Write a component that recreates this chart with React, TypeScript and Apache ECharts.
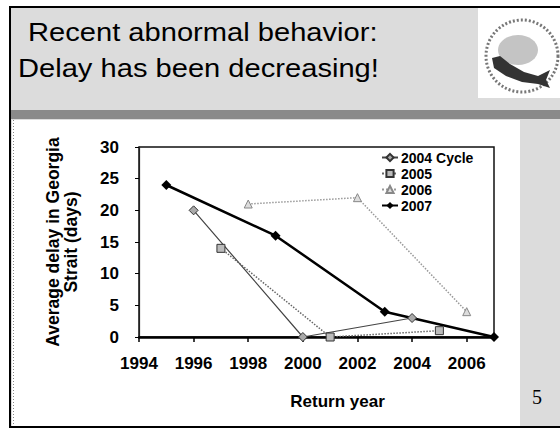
import React, { useEffect, useRef } from "react";
import * as echarts from "echarts";

// ---- data ----
const seriesNames = ["2004 Cycle", "2005", "2006", "2007"];
const years2004 = [1996, 2000, 2004];
const delay2004 = [20, 0, 3];
const years2005 = [1997, 2001, 2005];
const delay2005 = [14, 0, 1];
const years2006 = [1998, 2002, 2006];
const delay2006 = [21, 22, 4];
const years2007 = [1995, 1999, 2003, 2007];
const delay2007 = [24, 16, 4, 0];

const titleLines = ["Recent abnormal behavior:", "Delay has been decreasing!"];
const yAxisName = "Average delay in Georgia\nStrait (days)";
const xAxisName = "Return year";
const slideNumber = "5";

const FONT = "Liberation Sans, Arial, sans-serif";

function pairs(xs: number[], ys: number[]) {
  return xs.map((x, i) => [x, ys[i]]);
}

export default function App() {
  const ref = useRef<HTMLDivElement>(null);
  useEffect(() => {
    if (!ref.current) return;
    const chart = echarts.init(ref.current, null, { renderer: "svg" });
    const option: any = {
      animation: false,
      backgroundColor: "#ffffff",
      graphic: [
        // slide background
        { type: "rect", z: -10, shape: { x: 10, y: 7, width: 550, height: 420 }, style: { fill: "#dcdcdc" } },
        { type: "rect", z: -9, shape: { x: 10, y: 110, width: 550, height: 9 }, style: { fill: "#8a8a8a" } },
        { type: "rect", z: -9, shape: { x: 12, y: 120, width: 508, height: 306 }, style: { fill: "#ffffff" } },
        { type: "line", z: -8, shape: { x1: 13.5, y1: 120, x2: 13.5, y2: 426 }, style: { stroke: "#888", lineWidth: 1, lineDash: [1, 2] } },
        { type: "polyline", z: -8, shape: { points: [[560, 7], [10, 7], [10, 427], [560, 427]] }, style: { stroke: "#000", lineWidth: 2, fill: null } },
        // logo
        { type: "rect", z: -8, shape: { x: 478, y: 8, width: 82, height: 90 }, style: { fill: "#ffffff" } },
        { type: "circle", z: -7, shape: { cx: 522, cy: 56, r: 36 }, style: { fill: "none", stroke: "#777", lineWidth: 3, lineDash: [2, 2] } },
        { type: "ellipse", z: -7, shape: { cx: 518, cy: 50, rx: 20, ry: 15 }, style: { fill: "#c4c4c4" } },
        {
          type: "polygon", z: -6,
          shape: { points: [[492, 58], [500, 56], [510, 64], [524, 72], [538, 76], [550, 70], [546, 80], [550, 88], [538, 84], [522, 82], [506, 76], [494, 68]] },
          style: { fill: "#333" },
        },
        // title
        {
          type: "text", x: 28, y: 32, scaleX: 1.12,
          style: { text: titleLines[0], font: `26px ${FONT}`, fill: "#000", textVerticalAlign: "middle", textAlign: "left" },
        },
        {
          type: "text", x: 18, y: 68, scaleX: 1.12,
          style: { text: titleLines[1], font: `26px ${FONT}`, fill: "#000", textVerticalAlign: "middle", textAlign: "left" },
        },
        {
          type: "text", x: 537, y: 397,
          style: { text: slideNumber, font: `20px Liberation Serif, serif`, fill: "#000", textVerticalAlign: "middle", textAlign: "center" },
        },
      ],
      grid: {
        left: 139, top: 147, width: 355, height: 190,
        show: true, borderColor: "#111", borderWidth: 1.5, backgroundColor: "transparent",
      },
      legend: {
        orient: "vertical", left: 381, top: 150.5, padding: 0, itemGap: 2,
        itemWidth: 16, itemHeight: 9,
        data: seriesNames,
        textStyle: { fontFamily: FONT, fontSize: 14, fontWeight: "bold", color: "#000", padding: [0, 0, 0, -2] },
      },
      xAxis: {
        type: "value", min: 1994, max: 2007, interval: 2,
        name: xAxisName, nameLocation: "middle", nameGap: 56,
        nameTextStyle: { fontFamily: FONT, fontSize: 17, fontWeight: "bold", color: "#000", padding: [0, 0, 0, 42] },
        axisLine: { show: true, lineStyle: { color: "#000", width: 2.5 } },
        axisTick: { show: true, inside: false, length: 5, lineStyle: { color: "#000", width: 1.5 } },
        axisLabel: {
          fontFamily: FONT, fontSize: 17, fontWeight: "bold", color: "#000", margin: 18,
          showMaxLabel: false, formatter: (v: number) => String(v),
        },
        splitLine: { show: false },
      },
      yAxis: {
        type: "value", min: 0, max: 30, interval: 5,
        name: yAxisName, nameLocation: "middle", nameGap: 59, nameRotate: 90,
        nameTextStyle: { fontFamily: FONT, fontSize: 17.5, fontWeight: "bold", color: "#000", lineHeight: 18 },
        axisLine: { show: true, lineStyle: { color: "#222", width: 1.2 } },
        axisTick: { show: true, inside: false, length: 4, lineStyle: { color: "#000" } },
        axisLabel: { fontFamily: FONT, fontSize: 17, fontWeight: "bold", color: "#000", margin: 20 },
        splitLine: { show: false },
      },
      series: [
        {
          name: seriesNames[0], type: "line", data: pairs(years2004, delay2004),
          symbol: "diamond", symbolSize: 9, color: "#444",
          lineStyle: { color: "#444", width: 1.2, type: "solid" },
          itemStyle: { color: "#aaa", borderColor: "#333", borderWidth: 1 },
        },
        {
          name: seriesNames[1], type: "line", data: pairs(years2005, delay2005),
          symbol: "rect", symbolSize: 8, color: "#666",
          lineStyle: { color: "#666", width: 1.5, type: "dotted" },
          itemStyle: { color: "#bbb", borderColor: "#333", borderWidth: 1 },
        },
        {
          name: seriesNames[2], type: "line", data: pairs(years2006, delay2006),
          symbol: "triangle", symbolSize: 8, color: "#999",
          lineStyle: { color: "#999", width: 1.5, type: "dotted" },
          itemStyle: { color: "#ddd", borderColor: "#888", borderWidth: 1 },
        },
        {
          name: seriesNames[3], type: "line", data: pairs(years2007, delay2007),
          symbol: "diamond", symbolSize: 10, color: "#000",
          lineStyle: { color: "#000", width: 2.5 },
          itemStyle: { color: "#000" },
        },
      ],
    };
    chart.setOption(option);
    return () => chart.dispose();
  }, []);
  return (
    <div
      ref={ref}
      style={{ position: "fixed", left: 0, top: 0, width: 560, height: 430 }}
    />
  );
}
